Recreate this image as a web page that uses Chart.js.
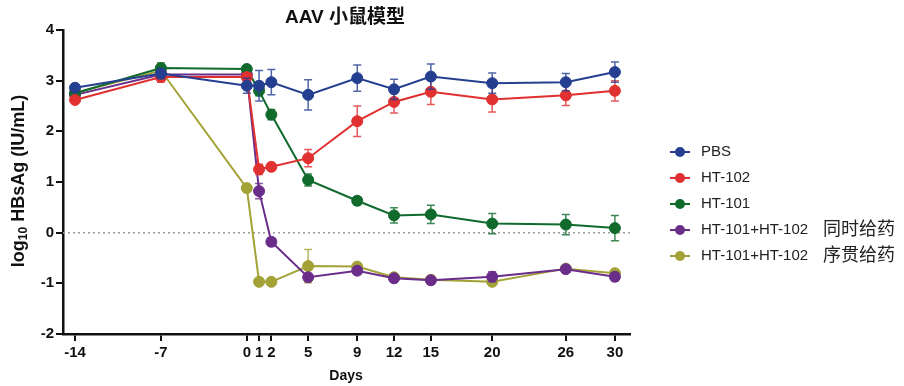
<!DOCTYPE html>
<html>
<head>
<meta charset="utf-8">
<script src="https://cdn.jsdelivr.net/npm/chart.js@4.4.1/dist/chart.umd.min.js"></script>
<style>
  body { margin: 0; background: #fff; }
  canvas { display: block; }
</style>
</head>
<body>
<canvas id="myChart" width="904" height="386"></canvas>
<script>
const FONT = "'Liberation Sans', Arial, 'Noto Sans CJK SC', sans-serif"

const days = [-14, -7, 0, 1, 2, 5, 9, 12, 15, 20, 26, 30]

const pbs       = [2.86, 3.14, 2.90, 2.90, 2.97, 2.72, 3.05, 2.83, 3.08, 2.95, 2.97, 3.17]
const pbsErr    = [0.06, 0.10, 0.15, 0.30, 0.25, 0.30, 0.26, 0.20, 0.25, 0.20, 0.17, 0.20]
const ht102     = [2.62, 3.07, 3.07, 1.25, 1.30, 1.47, 2.20, 2.58, 2.78, 2.63, 2.71, 2.80]
const ht102Err  = [0.05, 0.10, 0.08, 0.10, 0.05, 0.17, 0.30, 0.22, 0.25, 0.25, 0.20, 0.20]
const ht101     = [2.75, 3.25, 3.23, 2.80, 2.33, 1.04, 0.63, 0.34, 0.36, 0.18, 0.16, 0.09]
const ht101Err  = [0.05, 0.10, 0.05, 0.10, 0.10, 0.12, 0.08, 0.15, 0.18, 0.20, 0.20, 0.25]
const combo     = [2.72, 3.12, 3.12, 0.82, -0.18, -0.88, -0.75, -0.90, -0.94, -0.87, -0.72, -0.87]
const comboErr  = [0.05, 0.08, 0.05, 0.15, 0.08, 0.05, 0.06, 0.06, 0.05, 0.10, 0.05, 0.08]
const seq       = [2.76, 3.20, 0.88, -0.97, -0.97, -0.66, -0.67, -0.88, -0.93, -0.97, -0.71, -0.80]
const seqErr    = [0.05, 0.08, 0.05, 0.05, 0.05, 0.33, 0.05, 0.05, 0.05, 0.05, 0.05, 0.05]

const labels = ['PBS', 'HT-102', 'HT-101', 'HT-101+HT-102 同时给药', 'HT-101+HT-102 序贯给药']
const colors = ['#253f90', '#e0302f', '#0f6a2c', '#6a2d8a', '#a3a236']

function makeSet(i, vals, errs) {
    return {
        label: labels[i],
        data: days.map((d, k) => ({x: d, y: vals[k]})),
        err: errs,
        borderColor: colors[i],
        backgroundColor: colors[i],
        borderWidth: 2,
        pointRadius: 5.5,
        pointBorderWidth: 1,
        tension: 0
    }
}

// error bars, drawn under each dataset's own line
const errorBars = {
    id: 'errorBars',
    beforeDatasetDraw(chart, args) {
        const ds = chart.data.datasets[args.index]
        const y = chart.scales.y
        const ctx = chart.ctx
        ctx.save()
        ctx.strokeStyle = ds.borderColor
        ctx.globalAlpha = 0.8
        ctx.lineWidth = 1.5
        args.meta.data.forEach((pt, i) => {
            const e = ds.err[i]
            const v = ds.data[i].y
            const top = y.getPixelForValue(v + e)
            const bot = y.getPixelForValue(v - e)
            ctx.beginPath()
            ctx.moveTo(pt.x, top); ctx.lineTo(pt.x, bot)
            ctx.moveTo(pt.x - 4, top); ctx.lineTo(pt.x + 4, top)
            ctx.moveTo(pt.x - 4, bot); ctx.lineTo(pt.x + 4, bot)
            ctx.stroke()
        })
        ctx.restore()
    }
}

// dotted zero line, titles and legend
const decorations = {
    id: 'decorations',
    beforeDatasetsDraw(chart) {
        const ctx = chart.ctx
        const a = chart.chartArea
        const y0 = chart.scales.y.getPixelForValue(0)
        ctx.save()
        ctx.strokeStyle = '#9a9a9a'
        ctx.lineWidth = 1.5
        ctx.setLineDash([2, 3])
        ctx.beginPath()
        ctx.moveTo(a.left, y0); ctx.lineTo(a.right, y0)
        ctx.stroke()
        ctx.restore()
    },
    afterDraw(chart) {
        const ctx = chart.ctx
        ctx.save()
        ctx.fillStyle = '#111'
        ctx.textBaseline = 'middle'

        // title
        ctx.textAlign = 'center'
        ctx.font = 'bold 19px ' + FONT
        ctx.fillText('AAV 小鼠模型', 345, 18)

        // x title
        ctx.font = 'bold 14px ' + FONT
        ctx.fillText('Days', 346, 376)

        // y title with subscript
        ctx.translate(19, 181)
        ctx.rotate(-Math.PI / 2)
        ctx.textAlign = 'left'
        const big = 'bold 18px ' + FONT
        const small = 'bold 12px ' + FONT
        ctx.font = big
        const w1 = ctx.measureText('log').width
        const w3 = ctx.measureText(' HBsAg (IU/mL)').width
        ctx.font = small
        const w2 = ctx.measureText('10').width
        let x = -(w1 + w2 + w3) / 2
        ctx.font = big
        ctx.fillText('log', x, 0)
        x += w1
        ctx.font = small
        ctx.fillText('10', x, 5)
        x += w2
        ctx.font = big
        ctx.fillText(' HBsAg (IU/mL)', x, 0)
        ctx.restore()

        // legend
        ctx.save()
        ctx.textBaseline = 'middle'
        chart.data.datasets.forEach((ds, i) => {
            const cy = 152 + i * 26
            ctx.strokeStyle = ds.borderColor
            ctx.fillStyle = ds.borderColor
            ctx.lineWidth = 2
            ctx.beginPath()
            ctx.moveTo(670, cy); ctx.lineTo(690, cy)
            ctx.stroke()
            ctx.beginPath()
            ctx.arc(680, cy, 5, 0, Math.PI * 2)
            ctx.fill()
            const parts = ds.label.split(' ')
            ctx.fillStyle = '#222'
            ctx.font = '15px ' + FONT
            ctx.fillText(parts[0], 701, cy)
            if (parts[1]) {
                ctx.font = '18px ' + FONT
                ctx.fillText(parts[1], 823, cy)
            }
        })
        ctx.restore()
    }
}

const tickFont = {family: FONT, size: 15, weight: 'bold'}

const ctx = document.getElementById('myChart').getContext('2d')
const myChart = new Chart(ctx, {
    type: 'line',
    data: {
        datasets: [
            makeSet(0, pbs, pbsErr),
            makeSet(1, ht102, ht102Err),
            makeSet(2, ht101, ht101Err),
            makeSet(3, combo, comboErr),
            makeSet(4, seq, seqErr)
        ]
    },
    options: {
        responsive: false,
        animation: false,
        layout: {padding: {top: 30, right: 274, bottom: 0, left: 0}},
        plugins: {
            legend: {display: false},
            title: {display: false},
            tooltip: {enabled: false}
        },
        scales: {
            x: {
                type: 'linear',
                min: -14.98,
                max: 31.23,
                afterBuildTicks: s => { s.ticks = days.map(v => ({value: v})) },
                afterFit: s => { s.height = 52 },
                ticks: {autoSkip: false, maxRotation: 0, color: '#111', font: tickFont, padding: 3},
                grid: {drawOnChartArea: false, tickLength: 7, color: '#111', lineWidth: 2},
                border: {color: '#111', width: 2.5}
            },
            y: {
                min: -2,
                max: 4,
                afterFit: s => { s.width = 63 },
                ticks: {stepSize: 1, color: '#111', font: tickFont, padding: 2},
                grid: {drawOnChartArea: false, tickLength: 7, color: '#111', lineWidth: 2},
                border: {color: '#111', width: 2.5}
            }
        }
    },
    plugins: [errorBars, decorations]
})
</script>
</body>
</html>
